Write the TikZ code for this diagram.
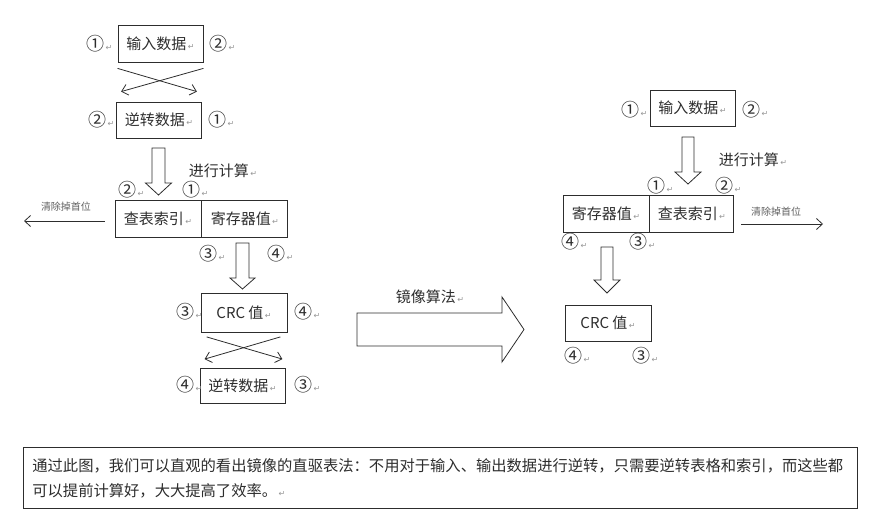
\documentclass[tikz,border=0pt]{standalone}
\usepackage{fontspec}
\setmainfont{Noto Sans CJK SC}
\newfontfamily\markfont{DejaVu Sans}
\usetikzlibrary{arrows.meta, positioning, calc}
\definecolor{inkgray}{RGB}{45,45,45}
\definecolor{markgray}{RGB}{150,150,150}
\newcommand{\retmark}{{\markfont\fontsize{8}{9}\selectfont\color{markgray}\,↵}}

\begin{document}
\begin{tikzpicture}[x=1pt, y=-1pt,
  box/.style={draw=inkgray, line width=0.8pt, inner sep=0pt, text=inkgray, font=\fontsize{15}{18}\selectfont},
  num/.style={anchor=west, inner sep=0pt, text=inkgray, font=\fontsize{18}{20}\selectfont},
  lbl/.style={inner sep=0pt, text=inkgray, font=\fontsize{15}{18}\selectfont},
  small/.style={inner sep=0pt, text=inkgray!75, font=\fontsize{10}{12}\selectfont},
  thin/.style={draw=inkgray, line width=0.8pt, -{Straight Barb[length=6pt,width=11pt]}},
  hollow/.style={draw=inkgray, line width=0.8pt, fill=white}]

\useasboundingbox (0,0) rectangle (876,519);

% 左边：原始算法
\node[box, minimum width=85, minimum height=37] (in1) at (160.5,43.5) {输入数据\retmark};
\node[num] (n1a) at (86,44) {①\retmark};
\node[num] (n1b) at (209,44) {②\retmark};

\node[box, minimum width=85, minimum height=36] (rev1) at (159,120) {逆转数据\retmark};
\node[num] (n2a) at (88,120) {②\retmark};
\node[num] (n2b) at (208,120) {①\retmark};

\draw[thin] ([shift={(0,6)}]in1.south west) -- ([shift={(-5,-10)}]rev1.north east);
\draw[thin] ([shift={(0,6)}]in1.south east) -- ([shift={(5,-10)}]rev1.north west);

% 空心箭头
\draw[hollow] (152,148) -- (165,148) -- (165,183) -- (171.5,183) -- (158.5,195) -- (145.5,183) -- (152,183) -- cycle;
\node[lbl] (calc1) at (223,171) {进行计算\retmark};
\node[num] (n3a) at (118,190) {②\retmark};
\node[num] (n3b) at (182,190) {①\retmark};

\node[box, minimum width=86, minimum height=37] (idx1) at (158,218.5) {查表索引\retmark};
\node[box, minimum width=86, minimum height=37, right=0pt of idx1] (reg1) {寄存器值\retmark};

\coordinate (clr1) at (24,221);
\node[small] (cut1) at (66,207) {清除掉首位};
\draw[thin] ($(clr1 -| idx1.west)+(-10,0)$) -- (clr1);

\node[num] (n4a) at (199,254) {③\retmark};
\node[num] (n4b) at (267,254) {④\retmark};
\draw[hollow] (236,243) -- (249,243) -- (249,278) -- (255,278) -- (242.5,289) -- (230,278) -- (236,278) -- cycle;

\node[box, minimum width=86, minimum height=39] (crc1) at (244,313) {CRC 值\retmark};
\node[num] (n5a) at (176,312) {③\retmark};
\node[num] (n5b) at (294,312) {④\retmark};

\node[box, minimum width=85, minimum height=35] (rev2) at (242.5,386) {逆转数据\retmark};
\node[num] (n6a) at (176,385) {④\retmark};
\node[num] (n6b) at (294,385) {③\retmark};

\draw[thin] ([shift={(6,4)}]crc1.south west) -- ([shift={(-3,-9)}]rev2.north east);
\draw[thin] ([shift={(-7,4)}]crc1.south east) -- ([shift={(5,-9)}]rev2.north west);

% 中间：镜像算法
\node[lbl] (mirror) at (430,297) {镜像算法\retmark};
\draw[hollow] (357,313) -- (502,313) -- (502,297) -- (524,329.5) -- (502,362) -- (502,346) -- (357,346) -- cycle;

% 右边：镜像后的算法
\node[box, minimum width=85, minimum height=36] (in2) at (692.5,108) {输入数据\retmark};
\node[num] (m1a) at (621,110) {①\retmark};
\node[num] (m1b) at (742,110) {②\retmark};

\draw[hollow] (682,137) -- (694,137) -- (694,172) -- (701,172) -- (688,184) -- (675,172) -- (682,172) -- cycle;
\node[lbl] (calc2) at (753,160) {进行计算\retmark};
\node[num] (m2a) at (647,186) {①\retmark};
\node[num] (m2b) at (715,186) {②\retmark};

\node[box, minimum width=86, minimum height=37] (reg2) at (606,213.5) {寄存器值\retmark};
\node[box, minimum width=84, minimum height=37, right=0pt of reg2] (idx2) {查表索引\retmark};

\coordinate (clr2) at (823,224);
\node[small] (cut2) at (776,212) {清除掉首位};
\draw[thin] ($(clr2 -| idx2.east)+(7,0)$) -- (clr2);

\node[num] (m3a) at (561,242) {④\retmark};
\node[num] (m3b) at (629,242) {③\retmark};
\draw[hollow] (601,247) -- (613,247) -- (613,280) -- (620,280) -- (607,293) -- (594,280) -- (601,280) -- cycle;

\node[box, minimum width=86, minimum height=36] (crc2) at (608,323) {CRC 值\retmark};
\node[num] (m4a) at (564,356) {④\retmark};
\node[num] (m4b) at (632,356) {③\retmark};

% 说明文字
\node[draw=inkgray, line width=0.8pt, anchor=north west, minimum width=834, minimum height=61,
      inner xsep=9pt, text width=816, align=left, text=inkgray,
      font=\fontsize{15.3}{25}\selectfont] (note) at (23,447)
  {通过此图，我们可以直观的看出镜像的直驱表法：不用对于输入、输出数据进行逆转，只需要逆转表格和索引，而这些都\\
   可以提前计算好，大大提高了效率。\retmark};

\end{tikzpicture}
\end{document}
